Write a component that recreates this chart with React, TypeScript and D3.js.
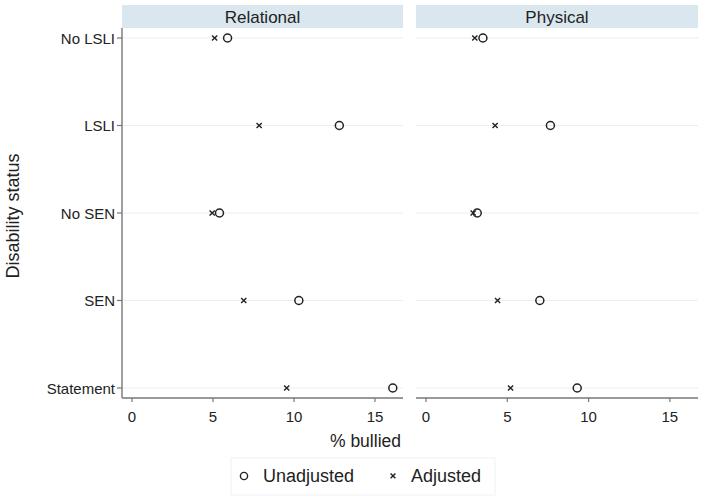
import React from "react";
import * as d3 from "d3";

const categories = ["No LSLI", "LSLI", "No SEN", "SEN", "Statement"];
const panels = ["Relational", "Physical"];
const unadjusted = [
  [5.9, 12.8, 5.4, 10.3, 16.1],
  [3.5, 7.65, 3.15, 7.0, 9.3],
];
const adjusted = [
  [5.1, 7.85, 4.95, 6.9, 9.55],
  [3.0, 4.25, 2.9, 4.4, 5.2],
];
const xTicks = [0, 5, 10, 15];

const W = 702;
const H = 498;
const panelX = [
  [122, 403],
  [416, 698],
];
const stripTop = 5;
const stripBottom = 28;
const axisY = 398;
const font = "'Liberation Sans', Arial, Helvetica, sans-serif";

export default function App() {
  const y = d3.scalePoint<string>().domain(categories).range([38, 388]);
  return (
    <svg width={W} height={H} style={{ position: "absolute", left: 0, top: 0, background: "#fff" }}>
      {panels.map((p, pi) => {
        const [x0, x1] = panelX[pi];
        const x = d3
          .scaleLinear()
          .domain([-0.617, 16.73])
          .range([x0, x1]);
        return (
          <g key={p}>
            <rect x={x0} y={stripTop} width={x1 - x0} height={stripBottom - stripTop} fill="#dbe7ef" />
            <text x={(x0 + x1) / 2} y={23} textAnchor="middle" fontFamily={font} fontSize={17} fill="#222">
              {p}
            </text>
            {categories.map((c) => (
              <line key={c} x1={x0} x2={x1} y1={y(c)} y2={y(c)} stroke="#e8f0f3" strokeWidth={1.2} />
            ))}
            <line x1={x0} x2={x1} y1={axisY} y2={axisY} stroke="#777" strokeWidth={1.4} />
            {xTicks.map((t) => (
              <g key={t}>
                <line x1={x(t)} x2={x(t)} y1={axisY} y2={axisY + 4} stroke="#777" strokeWidth={1.2} />
                <text x={x(t)} y={422} textAnchor="middle" fontFamily={font} fontSize={15} fill="#222">
                  {t}
                </text>
              </g>
            ))}
            {categories.map((c, ci) => {
              const cy = y(c) as number;
              const ax = x(adjusted[pi][ci]);
              const ux = x(unadjusted[pi][ci]);
              const s = 2.6;
              return (
                <g key={c}>
                  <path
                    d={`M${ax - s},${cy - s}L${ax + s},${cy + s}M${ax - s},${cy + s}L${ax + s},${cy - s}`}
                    stroke="#222"
                    strokeWidth={1.4}
                  />
                  <circle cx={ux} cy={cy} r={4} fill="none" stroke="#222" strokeWidth={1.5} />
                </g>
              );
            })}
          </g>
        );
      })}
      <line x1={122} x2={122} y1={stripBottom} y2={axisY} stroke="#777" strokeWidth={1.4} />
      {categories.map((c) => (
        <g key={c}>
          <line x1={117} x2={122} y1={y(c)} y2={y(c)} stroke="#777" strokeWidth={1.2} />
          <text x={115} y={(y(c) as number) + 5.5} textAnchor="end" fontFamily={font} fontSize={15} fill="#222">
            {c}
          </text>
        </g>
      ))}
      <text
        transform={`translate(19,216) rotate(-90)`}
        textAnchor="middle"
        fontFamily={font}
        fontSize={18}
        fill="#222"
      >
        Disability status
      </text>
      <text x={401} y={447} textAnchor="end" fontFamily={font} fontSize={17.5} fill="#222">
        % bullied
      </text>
      <rect x={231} y={458} width={264} height={37} fill="#fff" stroke="#eef2f4" strokeWidth={1} />
      <circle cx={244} cy={476} r={3.6} fill="none" stroke="#222" strokeWidth={1.4} />
      <text x={263} y={482} fontFamily={font} fontSize={18} fill="#222">
        Unadjusted
      </text>
      <path d="M390.6,473.4L395.4,478.2M390.6,478.2L395.4,473.4" stroke="#222" strokeWidth={1.4} />
      <text x={411} y={482} fontFamily={font} fontSize={18} fill="#222">
        Adjusted
      </text>
    </svg>
  );
}
